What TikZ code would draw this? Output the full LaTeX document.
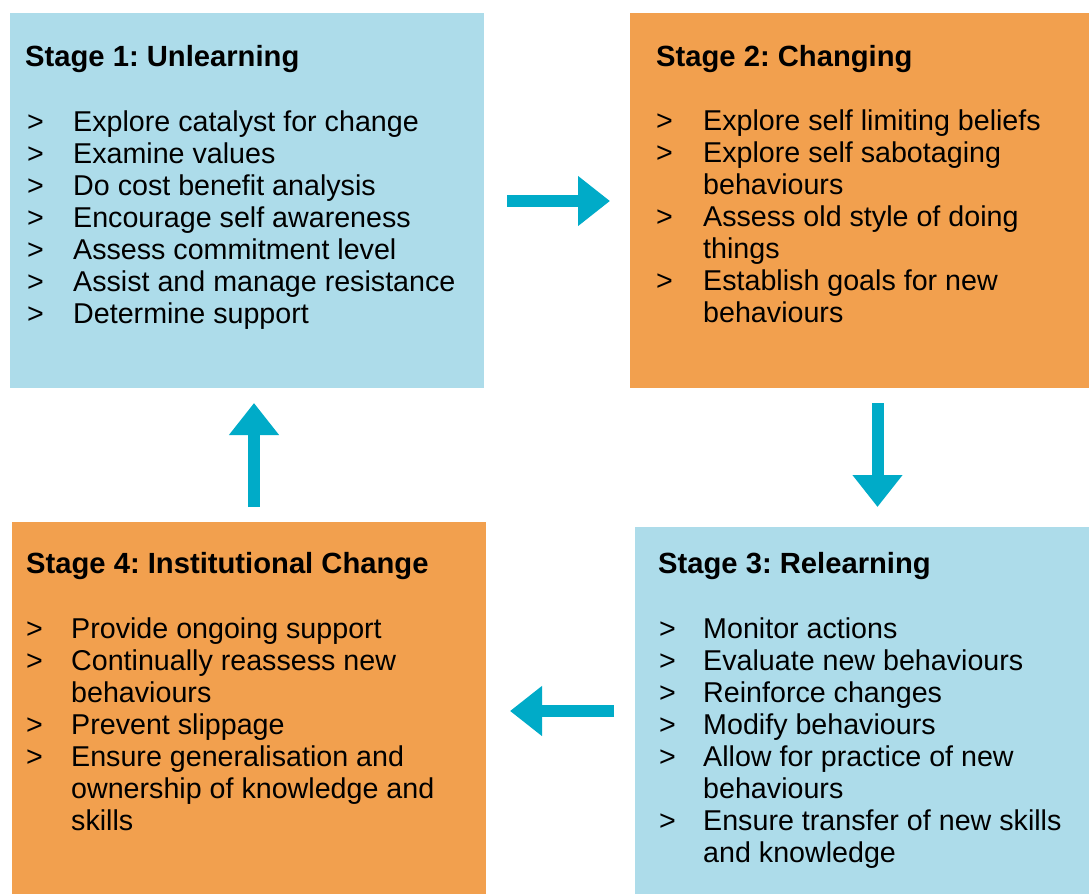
\documentclass[tikz,border=0pt]{standalone}
\usepackage{fontspec}
\setmainfont{Liberation Sans}
\usetikzlibrary{arrows.meta}
\definecolor{lblue}{HTML}{ADDCEA}
\definecolor{lorange}{HTML}{F2A04E}
\definecolor{acyan}{HTML}{00ABC8}
\frenchspacing
\tikzset{
  bluebox/.style={fill=lblue, draw=none},
  orangebox/.style={fill=lorange, draw=none},
  ttl/.style={anchor=base west, inner sep=0pt, font=\fontsize{29.2}{32}\selectfont\bfseries\frenchspacing},
  txt/.style={anchor=base west, inner sep=0pt, font=\fontsize{28.65}{32}\selectfont\frenchspacing},
  blockarrow/.style={draw=acyan, line width=12pt, line cap=butt, -{Triangle[length=32pt,width=48pt]}}
}
\begin{document}
\begin{tikzpicture}[x=1pt,y=-1pt]
\useasboundingbox (0,0) rectangle (1089,894);
% boxes
\fill[bluebox] (10,13) rectangle (484,388);
\fill[orangebox] (630,13) rectangle (1089,388);
\fill[bluebox] (635,527) rectangle (1089,894);
\fill[orangebox] (12,522) rectangle (486,894);

% Stage 1
\node[ttl] (t1) at (25,66) {Stage 1: Unlearning};
\foreach \y/\s [count=\i] in {131/Explore catalyst for change,163/Examine values,195/Do cost benefit analysis,227/Encourage self awareness,259/Assess commitment level,291/Assist and manage resistance,323/Determine support}{
  \node[txt] (b1g\i) at (27,\y) {>};
  \node[txt] (b1t\i) at (73,\y) {\s};
}

% Stage 2
\node[ttl] (t2) at (656,66) {Stage 2: Changing};
\foreach \y in {130,162,226,290}{ \node[txt] at (656,\y) {>}; }
\node[txt] (b2a) at (703,130) {Explore self limiting beliefs};
\node[txt] (b2b) at (703,162) {Explore self sabotaging};
\node[txt] (b2c) at (703,194) {behaviours};
\node[txt] (b2d) at (703,226) {Assess old style of doing};
\node[txt] (b2e) at (703,258) {things};
\node[txt] (b2f) at (703,290) {Establish goals for new};
\node[txt] (b2g) at (703,322) {behaviours};

% Stage 3
\node[ttl] (t3) at (658,573) {Stage 3: Relearning};
\foreach \y in {638,670,702,734,766,830}{ \node[txt] at (659,\y) {>}; }
\node[txt] (b3a) at (703,638) {Monitor actions};
\node[txt] (b3b) at (703,670) {Evaluate new behaviours};
\node[txt] (b3c) at (703,702) {Reinforce changes};
\node[txt] (b3d) at (703,734) {Modify behaviours};
\node[txt] (b3e) at (703,766) {Allow for practice of new};
\node[txt] (b3f) at (703,798) {behaviours};
\node[txt] (b3g) at (703,830) {Ensure transfer of new skills};
\node[txt] (b3h) at (703,862) {and knowledge};

% Stage 4
\node[ttl] (t4) at (26,573) {Stage 4: Institutional Change};
\foreach \y in {638,670,734,766}{ \node[txt] at (26,\y) {>}; }
\node[txt] (b4a) at (71,638) {Provide ongoing support};
\node[txt] (b4b) at (71,670) {Continually reassess new};
\node[txt] (b4c) at (71,702) {behaviours};
\node[txt] (b4d) at (71,734) {Prevent slippage};
\node[txt] (b4e) at (71,766) {Ensure generalisation and};
\node[txt] (b4f) at (71,798) {ownership of knowledge and};
\node[txt] (b4g) at (71,830) {skills};

% arrows
\coordinate (r1) at (507,201);
\coordinate (r2) at (610,201);
\coordinate (d1) at (877.5,403);
\coordinate (d2) at (877.5,507);
\coordinate (l1) at (614,711);
\coordinate (l2) at (510,711);
\coordinate (u1) at (254,507);
\coordinate (u2) at (254,403);
\draw[blockarrow] (r1) -- (r2);
\draw[blockarrow] (d1) -- (d2);
\draw[blockarrow] (l1) -- (l2);
\draw[blockarrow] (u1) -- (u2);
\end{tikzpicture}
\end{document}
